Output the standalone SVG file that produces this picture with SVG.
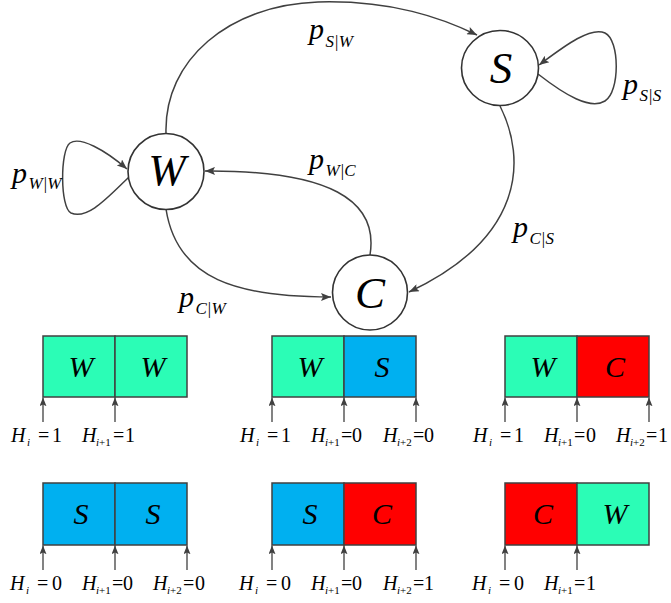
<svg xmlns="http://www.w3.org/2000/svg" width="671" height="603" viewBox="0 0 671 603" font-family="'Liberation Serif', 'Times New Roman', serif">
<defs>
<marker id="ah" viewBox="0 0 10 8" refX="10" refY="4" markerWidth="12" markerHeight="8" markerUnits="userSpaceOnUse" orient="auto"><path d="M0,0 L10,4 L0,8 L2,4 z" fill="#404040"/></marker>
<marker id="ah2" viewBox="0 0 10 8" refX="10" refY="4" markerWidth="9" markerHeight="7" markerUnits="userSpaceOnUse" orient="auto"><path d="M0,0 L10,4 L0,8 L2,4 z" fill="#404040"/></marker>
<style>
text{font-family:'Liberation Serif','Times New Roman',serif}
.node{fill:#fff;stroke:#333;stroke-width:1.6}
.nl{font-style:italic;font-size:45px;fill:#000;text-anchor:middle}
.edge{fill:none;stroke:#404040;stroke-width:1.5;marker-end:url(#ah)}
.p{font-style:italic;font-size:30px;fill:#000}
.ps{font-size:17px}
.g{fill:#2BFDB6}.b{fill:#00B0F0}.r{fill:#FF0000}
.cell{stroke:#404040;stroke-width:1.5}
.bl{font-style:italic;font-size:30px;fill:#000;text-anchor:middle}
.tick{stroke:#404040;stroke-width:1.3;marker-end:url(#ah2)}
.h{font-size:20px;fill:#000}
.it{font-style:italic}
.sub{font-size:11px}
</style>
</defs>

<g id="connectors">
<path class="edge" d="M166,133 C164,60 229,5 318,2 C392,0 442,18 477,35"/>
<path class="edge" d="M538,74 C565,95 590,110 605,101 C620,92 620,40 605,33 C590,26 562,48 539,65"/>
<path class="edge" d="M129,177 C108,197 88,220 71,213 C60,208 60,150 70,143 C80,136 105,150 127,169"/>
<path class="edge" d="M500,106 C527,160 524,238 409,292"/>
<path class="edge" d="M166,209 C177,280 238,297 331,297"/>
<path class="edge" d="M370,255 C379,200 329,170 205,171"/>
</g>

<g id="edge-labels">
<text class="p" x="309" y="38.5">p<tspan class="ps" x="325.5" y="46.7">S|W</tspan></text>
<text class="p" x="623" y="93.5">p<tspan class="ps" x="639.5" y="101">S|S</tspan></text>
<text class="p" x="12" y="183">p<tspan class="ps" x="28.5" y="189">W|W</tspan></text>
<text class="p" x="309" y="168.5">p<tspan class="ps" x="325.5" y="176">W|C</tspan></text>
<text class="p" x="513" y="236.5">p<tspan class="ps" x="529.5" y="244">C|S</tspan></text>
<text class="p" x="179" y="306.5">p<tspan class="ps" x="195.5" y="314">C|W</tspan></text>
</g>

<g id="node-W"><circle class="node" cx="166" cy="171.5" r="38"/><text class="nl" x="167" y="185">W</text></g>
<g id="node-S"><ellipse class="node" cx="500" cy="68" rx="38.5" ry="37.5"/><text class="nl" x="501" y="83">S</text></g>
<g id="node-C"><circle class="node" cx="370" cy="292.5" r="37.5"/><text class="nl" x="370" y="307.5">C</text></g>

<g id="seq-WW">
<rect class="cell g" x="43" y="336" width="72" height="61"/>
<rect class="cell g" x="115" y="336" width="72" height="61"/>
<text class="bl" x="81" y="376.5">W</text><text class="bl" x="153" y="376.5">W</text>
<line class="tick" x1="43" y1="422" x2="43" y2="397.5"/>
<line class="tick" x1="115" y1="422" x2="115" y2="397.5"/>
<text class="h" y="442"><tspan class="it" x="11">H</tspan><tspan class="it sub" x="27" y="446">i</tspan><tspan x="38" y="442">=</tspan><tspan x="52">1</tspan></text>
<text class="h" y="442"><tspan class="it" x="82">H</tspan><tspan class="sub" x="96" y="446"><tspan class="it">i</tspan>+1</tspan><tspan x="113" y="442">=</tspan><tspan x="125">1</tspan></text>
</g>

<g id="seq-WS">
<rect class="cell g" x="272" y="336" width="72" height="61"/>
<rect class="cell b" x="344" y="336" width="72" height="61"/>
<text class="bl" x="310" y="376.5">W</text><text class="bl" x="382" y="376.5">S</text>
<line class="tick" x1="272" y1="422" x2="272" y2="397.5"/>
<line class="tick" x1="344" y1="422" x2="344" y2="397.5"/>
<line class="tick" x1="416" y1="422" x2="416" y2="397.5"/>
<text class="h" y="442"><tspan class="it" x="240">H</tspan><tspan class="it sub" x="256" y="446">i</tspan><tspan x="267" y="442">=</tspan><tspan x="281">1</tspan></text>
<text class="h" y="442"><tspan class="it" x="311">H</tspan><tspan class="sub" x="325" y="446"><tspan class="it">i</tspan>+1</tspan><tspan x="341" y="442">=</tspan><tspan x="352">0</tspan></text>
<text class="h" y="442"><tspan class="it" x="383">H</tspan><tspan class="sub" x="397" y="446"><tspan class="it">i</tspan>+2</tspan><tspan x="413" y="442">=</tspan><tspan x="424">0</tspan></text>
</g>

<g id="seq-WC">
<rect class="cell g" x="505" y="336" width="72" height="61"/>
<rect class="cell r" x="577" y="336" width="72" height="61"/>
<text class="bl" x="543" y="376.5">W</text><text class="bl" x="615" y="376.5">C</text>
<line class="tick" x1="505" y1="422" x2="505" y2="397.5"/>
<line class="tick" x1="577" y1="422" x2="577" y2="397.5"/>
<line class="tick" x1="649" y1="422" x2="649" y2="397.5"/>
<text class="h" y="442"><tspan class="it" x="473">H</tspan><tspan class="it sub" x="489" y="446">i</tspan><tspan x="500" y="442">=</tspan><tspan x="514">1</tspan></text>
<text class="h" y="442"><tspan class="it" x="544">H</tspan><tspan class="sub" x="558" y="446"><tspan class="it">i</tspan>+1</tspan><tspan x="574" y="442">=</tspan><tspan x="586">0</tspan></text>
<text class="h" y="442"><tspan class="it" x="616">H</tspan><tspan class="sub" x="630" y="446"><tspan class="it">i</tspan>+2</tspan><tspan x="646" y="442">=</tspan><tspan x="658">1</tspan></text>
</g>

<g id="seq-SS">
<rect class="cell b" x="43" y="483" width="72" height="62"/>
<rect class="cell b" x="115" y="483" width="72" height="62"/>
<text class="bl" x="81" y="524">S</text><text class="bl" x="153" y="524">S</text>
<line class="tick" x1="43" y1="570" x2="43" y2="545.5"/>
<line class="tick" x1="115" y1="570" x2="115" y2="545.5"/>
<line class="tick" x1="187" y1="570" x2="187" y2="545.5"/>
<text class="h" y="590"><tspan class="it" x="10">H</tspan><tspan class="it sub" x="26" y="594">i</tspan><tspan x="37" y="590">=</tspan><tspan x="52">0</tspan></text>
<text class="h" y="590"><tspan class="it" x="82">H</tspan><tspan class="sub" x="96" y="594"><tspan class="it">i</tspan>+1</tspan><tspan x="112" y="590">=</tspan><tspan x="123">0</tspan></text>
<text class="h" y="590"><tspan class="it" x="153">H</tspan><tspan class="sub" x="167" y="594"><tspan class="it">i</tspan>+2</tspan><tspan x="183" y="590">=</tspan><tspan x="195">0</tspan></text>
</g>

<g id="seq-SC">
<rect class="cell b" x="272" y="483" width="72" height="62"/>
<rect class="cell r" x="344" y="483" width="72" height="62"/>
<text class="bl" x="310" y="524">S</text><text class="bl" x="382" y="524">C</text>
<line class="tick" x1="272" y1="570" x2="272" y2="545.5"/>
<line class="tick" x1="344" y1="570" x2="344" y2="545.5"/>
<line class="tick" x1="416" y1="570" x2="416" y2="545.5"/>
<text class="h" y="590"><tspan class="it" x="239">H</tspan><tspan class="it sub" x="255" y="594">i</tspan><tspan x="266" y="590">=</tspan><tspan x="281">0</tspan></text>
<text class="h" y="590"><tspan class="it" x="311">H</tspan><tspan class="sub" x="325" y="594"><tspan class="it">i</tspan>+1</tspan><tspan x="341" y="590">=</tspan><tspan x="352">0</tspan></text>
<text class="h" y="590"><tspan class="it" x="383">H</tspan><tspan class="sub" x="397" y="594"><tspan class="it">i</tspan>+2</tspan><tspan x="413" y="590">=</tspan><tspan x="424">1</tspan></text>
</g>

<g id="seq-CW">
<rect class="cell r" x="505" y="483" width="72" height="62"/>
<rect class="cell g" x="577" y="483" width="72" height="62"/>
<text class="bl" x="543" y="524">C</text><text class="bl" x="615" y="524">W</text>
<line class="tick" x1="505" y1="570" x2="505" y2="545.5"/>
<line class="tick" x1="577" y1="570" x2="577" y2="545.5"/>
<text class="h" y="590"><tspan class="it" x="472">H</tspan><tspan class="it sub" x="488" y="594">i</tspan><tspan x="499" y="590">=</tspan><tspan x="514">0</tspan></text>
<text class="h" y="590"><tspan class="it" x="544">H</tspan><tspan class="sub" x="558" y="594"><tspan class="it">i</tspan>+1</tspan><tspan x="574" y="590">=</tspan><tspan x="586">1</tspan></text>
</g>
</svg>
